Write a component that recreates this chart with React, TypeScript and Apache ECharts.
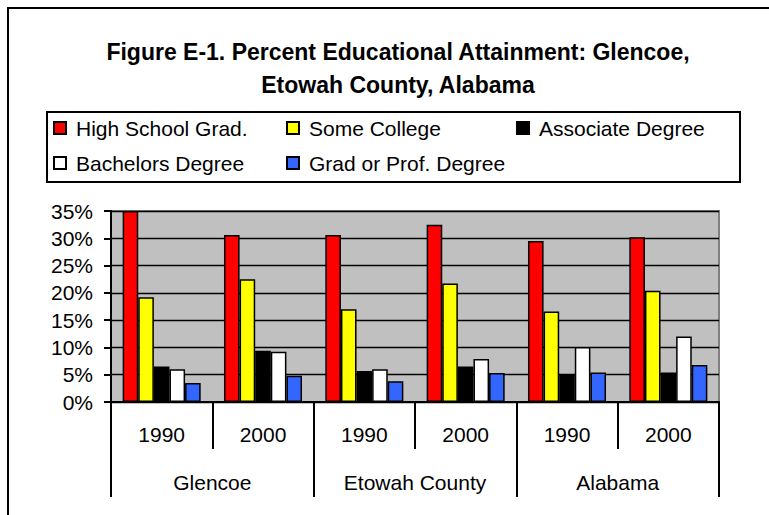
import React, { useEffect, useRef } from "react";
import * as echarts from "echarts";

// Educational attainment shares (percent of population 25+)
const years = ["1990", "2000", "1990", "2000", "1990", "2000"];
const places = ["Glencoe", "Etowah County", "Alabama"];
const yTicks = [0, 5, 10, 15, 20, 25, 30, 35];

const highSchool = [35.0, 30.6, 30.6, 32.5, 29.5, 30.2];
const someCollege = [19.2, 22.5, 17.0, 21.7, 16.6, 20.4];
const associate = [6.5, 9.4, 5.7, 6.5, 5.1, 5.4];
const bachelors = [6.0, 9.2, 6.0, 7.9, 10.1, 12.0];
const gradProf = [3.5, 4.8, 3.8, 5.3, 5.4, 6.8];

const seriesDefs = [
  { name: "High School Grad.", data: highSchool, color: "#ff0000" },
  { name: "Some College", data: someCollege, color: "#ffff00" },
  { name: "Associate Degree", data: associate, color: "#000000" },
  { name: "Bachelors Degree", data: bachelors, color: "#ffffff" },
  { name: "Grad or Prof. Degree", data: gradProf, color: "#3366ff" },
];

const FONT = "'Liberation Sans', Arial, Helvetica, sans-serif";

export default function App() {
  const ref = useRef<HTMLDivElement>(null);

  useEffect(() => {
    document.body.style.margin = "0";
    if (!ref.current) return;
    const chart = echarts.init(ref.current, null, { renderer: "svg" });

    const legendText = {
      fontFamily: FONT,
      fontSize: 21,
      color: "#000",
      lineHeight: 24,
      padding: [0, 0, 0, 5],
    };
    const legendBase = {
      orient: "vertical" as const,
      top: 116,
      padding: 0,
      itemWidth: 12,
      itemHeight: 12,
      itemGap: 11,
      icon: "rect",
      textStyle: legendText,
      selectedMode: false,
    };

    chart.setOption({
      animation: false,
      backgroundColor: "#ffffff",
      textStyle: { fontFamily: FONT },
      title: {
        text: "Figure E-1. Percent Educational Attainment: Glencoe,\nEtowah County, Alabama",
        left: 398,
        top: 35,
        padding: 0,
        textAlign: "center",
        textStyle: {
          fontFamily: FONT,
          fontWeight: "bold",
          fontSize: 23,
          lineHeight: 33,
          color: "#000",
        },
      },
      legend: [
        { ...legendBase, left: 53, data: ["High School Grad.", "Bachelors Degree"] },
        { ...legendBase, left: 286, data: ["Some College", "Grad or Prof. Degree"] },
        { ...legendBase, left: 516, data: ["Associate Degree"] },
      ],
      grid: {
        left: 111,
        right: 50,
        top: 211,
        bottom: 113,
        show: true,
        backgroundColor: "#c0c0c0",
        borderColor: "#808080",
        borderWidth: 2,
      },
      xAxis: [
        {
          type: "category",
          data: years,
          position: "bottom",
          axisLine: { show: true, lineStyle: { color: "#000", width: 2 } },
          axisTick: { show: true, length: 47, lineStyle: { color: "#000", width: 2 } },
          axisLabel: { margin: 22, fontSize: 21, color: "#000", fontFamily: FONT },
        },
        {
          type: "category",
          data: places,
          position: "bottom",
          axisLine: { show: false },
          axisTick: { show: true, length: 95, lineStyle: { color: "#000", width: 2 } },
          axisLabel: { margin: 70, fontSize: 21, color: "#000", fontFamily: FONT },
        },
      ],
      yAxis: {
        type: "value",
        min: yTicks[0],
        max: yTicks[yTicks.length - 1],
        interval: yTicks[1] - yTicks[0],
        axisLine: { show: true, lineStyle: { color: "#000", width: 2 } },
        axisTick: { show: true, length: 7, lineStyle: { color: "#000", width: 2 } },
        axisLabel: {
          margin: 18,
          fontSize: 21,
          color: "#000",
          fontFamily: FONT,
          formatter: "{value}%",
        },
        splitLine: { show: true, lineStyle: { color: "#000", width: 1.3 } },
      },
      series: seriesDefs.map((s) => ({
        name: s.name,
        type: "bar",
        xAxisIndex: 0,
        data: s.data,
        barGap: "0%",
        barCategoryGap: "23%",
        itemStyle: { color: s.color, borderColor: "#000", borderWidth: 1.5 },
      })),
      graphic: [
        {
          type: "rect",
          shape: { x: 47, y: 112, width: 693, height: 70 },
          style: { fill: "none", stroke: "#000", lineWidth: 2 },
          z: 10,
        },
        {
          type: "rect",
          shape: { x: 8, y: 8, width: 800, height: 560 },
          style: { fill: "none", stroke: "#000", lineWidth: 2 },
          z: 10,
        },
      ],
    });

    return () => chart.dispose();
  }, []);

  return <div ref={ref} style={{ width: 769, height: 515 }} />;
}
